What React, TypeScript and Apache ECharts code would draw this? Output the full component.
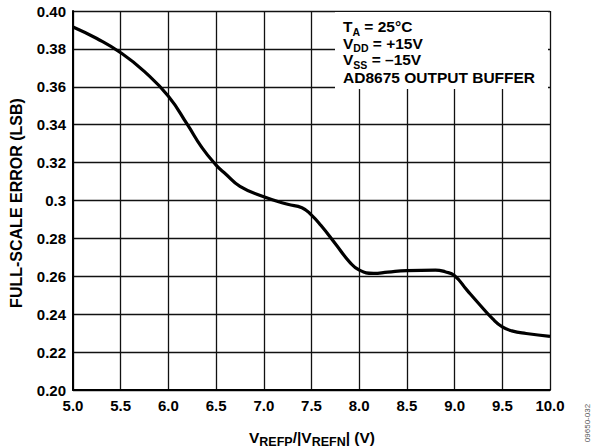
import React, { useEffect, useRef } from "react";
import * as echarts from "echarts";

const xValues = [5.0, 5.25, 5.5, 5.75, 6.0, 6.2, 6.35, 6.5, 6.6, 6.75, 7.0, 7.25, 7.4, 7.5, 7.6, 7.75, 7.9, 8.0, 8.15, 8.3, 8.5, 8.8, 8.9, 9.0, 9.13, 9.25, 9.4, 9.5, 9.6, 9.75, 10.0];
const errorValues = [0.3916, 0.3855, 0.378, 0.368, 0.355, 0.340, 0.328, 0.3187, 0.314, 0.3075, 0.302, 0.298, 0.2962, 0.2923, 0.2868, 0.2772, 0.2675, 0.2633, 0.2615, 0.2622, 0.263, 0.2633, 0.2624, 0.2603, 0.2527, 0.2458, 0.2375, 0.2333, 0.2312, 0.2298, 0.2283];
const yTickLabels = ["0.20", "0.22", "0.24", "0.26", "0.28", "0.3", "0.32", "0.34", "0.36", "0.38", "0.40"];
const xTickLabels = ["5.0", "5.5", "6.0", "6.5", "7.0", "7.5", "8.0", "8.5", "9.0", "9.5", "10.0"];

const FONT = "'Liberation Sans', Arial, Helvetica, sans-serif";

export default function App() {
  const ref = useRef<HTMLDivElement>(null);
  useEffect(() => {
    document.body.style.margin = "0";
    const chart = echarts.init(ref.current!, null, { renderer: "svg" });
    const rich = {
      n: { fontSize: 15.5, fontWeight: "bold", fontFamily: FONT, color: "#000", lineHeight: 16, verticalAlign: "middle" },
      m: { fontSize: 15.5, fontWeight: "bold", fontFamily: FONT, color: "#000", lineHeight: 11, verticalAlign: "middle" },
      s: { fontSize: 10.5, fontWeight: "bold", fontFamily: FONT, color: "#000", lineHeight: 21, verticalAlign: "bottom" },
    };
    const xrich = {
      n: { fontSize: 15.5, fontWeight: "bold", fontFamily: FONT, color: "#000", lineHeight: 16, verticalAlign: "middle" },
      s: { fontSize: 12.5, fontWeight: "bold", fontFamily: FONT, color: "#000", lineHeight: 23, verticalAlign: "bottom" },
    };
    const annot = [
      "{n|T}{s|A}{n| = 25°C}",
      "{n|V}{s|DD}{n| = +15V}",
      "{n|V}{s|SS}{n| = –15V}",
      "{m|AD8675 OUTPUT BUFFER}",
    ];
    const annotY = [26.5, 43.3, 59.8, 77.8];
    const graphic: any[] = [
      { type: "rect", shape: { x: 335, y: 12, width: 213, height: 77 }, style: { fill: "#fff" }, z: 10 },
      ...annot.map((t, i) => ({
        type: "text",
        x: 343,
        y: annotY[i],
        z: 11,
        style: { text: t, rich, verticalAlign: "middle" },
      })),
      {
        type: "text",
        x: 312,
        y: 437,
        z: 11,
        style: { text: "{n|V}{s|REFP}{n|/|V}{s|REFN}{n|| (V)}", rich: xrich, align: "center", verticalAlign: "middle" },
      },
      {
        type: "text",
        x: 16,
        y: 203,
        rotation: Math.PI / 2,
        z: 11,
        style: { text: "FULL-SCALE ERROR (LSB)", fontSize: 16, fontWeight: "bold", fontFamily: FONT, fill: "#000", align: "center", verticalAlign: "middle" },
      },
      {
        type: "text",
        x: 587,
        y: 423,
        rotation: Math.PI / 2,
        z: 11,
        style: { text: "09650-032", fontSize: 8, fontFamily: FONT, fill: "#555", align: "center", verticalAlign: "middle" },
      },
    ];
    chart.setOption({
      animation: false,
      grid: { left: 73, right: 43, top: 11, bottom: 58 },
      xAxis: {
        type: "value",
        min: 5,
        max: 10,
        interval: 0.5,
        axisLine: { show: true, lineStyle: { color: "#000", width: 2 } },
        axisTick: { show: false },
        axisLabel: {
          fontSize: 15,
          fontWeight: "bold",
          fontFamily: FONT,
          color: "#000",
          margin: 8,
          formatter: (v: number) => xTickLabels[Math.round((v - 5) / 0.5)] ?? "",
        },
        splitLine: { show: true, lineStyle: { color: "#111", width: 1.3 } },
      },
      yAxis: {
        type: "value",
        min: 0.2,
        max: 0.4,
        interval: 0.02,
        axisLine: { show: true, lineStyle: { color: "#000", width: 2 } },
        axisTick: { show: false },
        axisLabel: {
          fontSize: 15,
          fontWeight: "bold",
          fontFamily: FONT,
          color: "#000",
          margin: 7,
          formatter: (v: number) => yTickLabels[Math.round((v - 0.2) / 0.02)] ?? "",
        },
        splitLine: { show: true, lineStyle: { color: "#111", width: 1.3 } },
      },
      series: [
        {
          type: "line",
          data: xValues.map((x, i) => [x, errorValues[i]]),
          smooth: 0.5,
          showSymbol: false,
          lineStyle: { color: "#000", width: 3.2 },
          z: 5,
        },
      ],
      graphic,
    });
    return () => chart.dispose();
  }, []);
  return <div ref={ref} style={{ width: 593, height: 448 }} />;
}
